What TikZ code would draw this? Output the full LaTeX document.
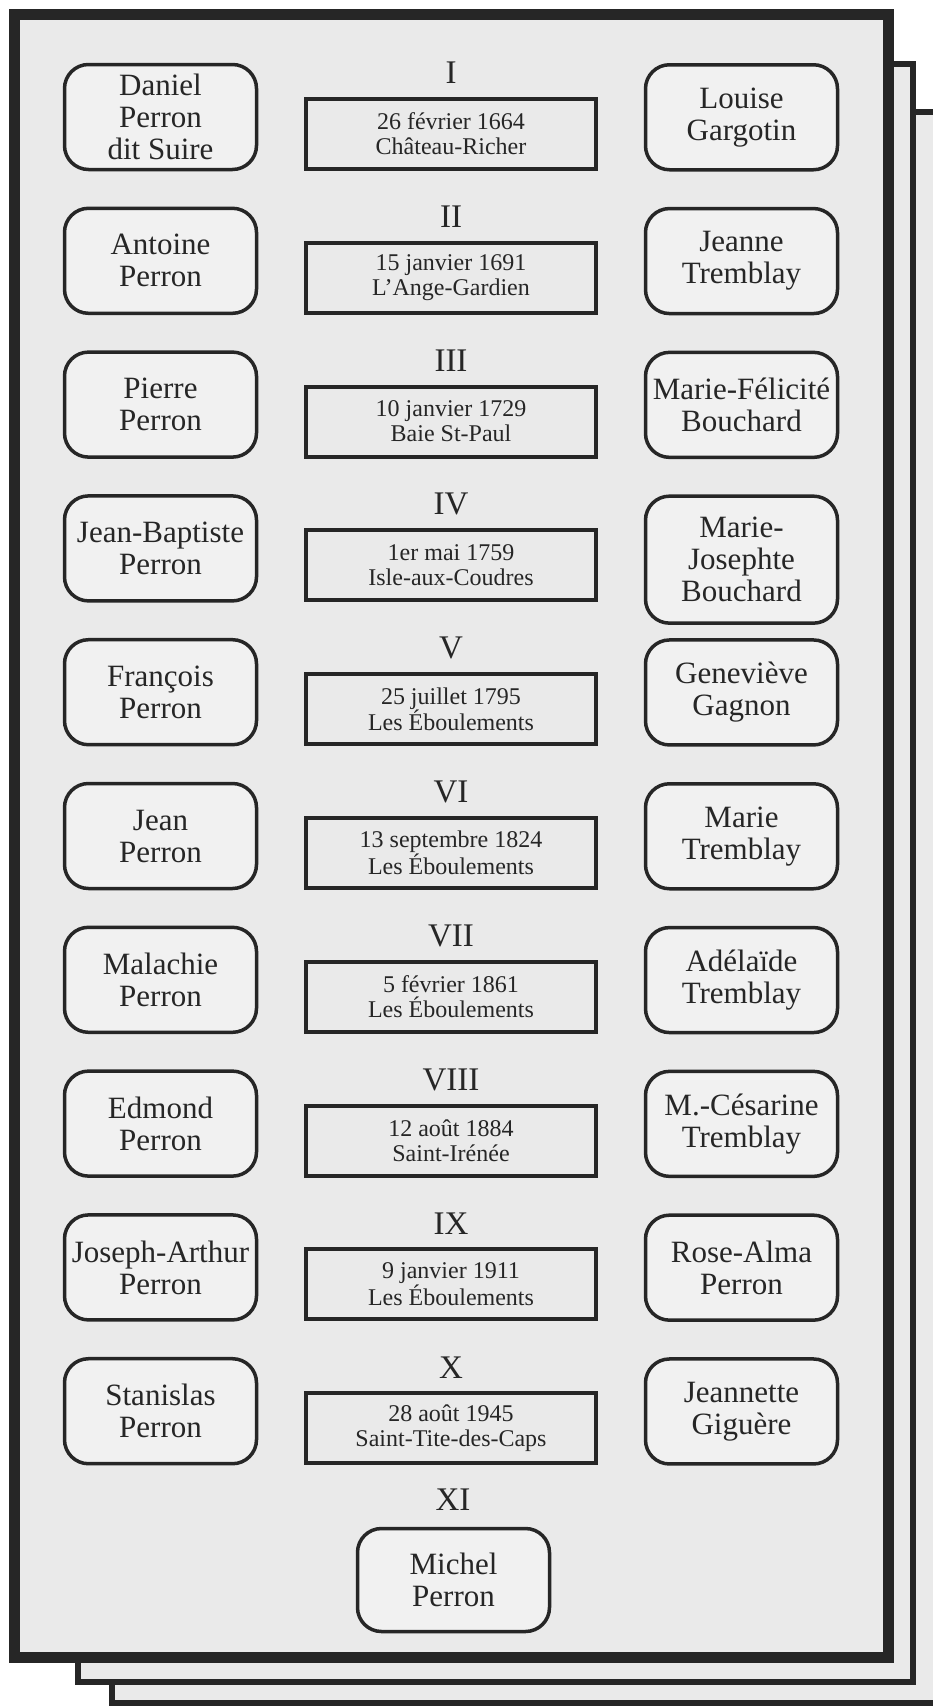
\documentclass[tikz,border=0pt]{standalone}
\usepackage{fontspec}
\setmainfont{Liberation Serif}
\definecolor{ink}{HTML}{262626}
\definecolor{paper}{HTML}{EAEAEA}
\definecolor{boxfill}{HTML}{F1F1F1}
\tikzset{
  person/.style={draw=ink, fill=boxfill, line width=3.5pt, rounded corners=24pt,
    minimum width=192pt, minimum height=105pt, align=center, inner sep=0pt,
    font=\fontsize{31}{32}\selectfont, text=ink},
  datebox/.style={draw=ink, fill=paper, line width=4pt, minimum width=290pt,
    minimum height=70pt, align=center, inner sep=0pt,
    font=\fontsize{24}{25}\selectfont, text=ink},
  gen/.style={font=\fontsize{33}{33}\selectfont, text=ink, inner sep=0pt},
  sheet/.style={draw=ink, fill=paper},
}
\begin{document}
\begin{tikzpicture}[x=1pt,y=-1pt]
\useasboundingbox (0,0) rectangle (933,1706);
\fill[white] (0,0) rectangle (933,1706);
\clip (0,0) rectangle (933,1706);
% stacked sheets
\draw[sheet, line width=6pt] (112,111.5) rectangle (980,1703);
\draw[sheet, line width=6pt] (78,63.5) rectangle (913,1681.5);
\draw[sheet, line width=11pt] (14.5,14.5) rectangle (888,1657.5);
% generations
\foreach \i/\g/\L/\D/\P/\R/\h in {
  1/I/{Daniel\\Perron\\dit Suire}/{26 février 1664}/{Château-Richer}/{Louise\\Gargotin}/105,
  2/II/{Antoine\\Perron}/{15 janvier 1691}/{L\char39 Ange-Gardien}/{Jeanne\\Tremblay}/105,
  3/III/{Pierre\\Perron}/{10 janvier 1729}/{Baie St-Paul}/{Marie-Félicité\\Bouchard}/105,
  4/IV/{Jean-Baptiste\\Perron}/{1er mai 1759}/{Isle-aux-Coudres}/{Marie-\\Josephte\\Bouchard}/127,
  5/V/{François\\Perron}/{25 juillet 1795}/{Les Éboulements}/{Geneviève\\Gagnon}/105,
  6/VI/{Jean\\Perron}/{13 septembre 1824}/{Les Éboulements}/{Marie\\Tremblay}/105,
  7/VII/{Malachie\\Perron}/{5 février 1861}/{Les Éboulements}/{Adélaïde\\Tremblay}/105,
  8/VIII/{Edmond\\Perron}/{12 août 1884}/{Saint-Irénée}/{M.-Césarine\\Tremblay}/105,
  9/IX/{Joseph-Arthur\\Perron}/{9 janvier 1911}/{Les Éboulements}/{Rose-Alma\\Perron}/105,
  10/X/{Stanislas\\Perron}/{28 août 1945}/{Saint-Tite-des-Caps}/{Jeannette\\Giguère}/105}{
  \pgfmathsetmacro{\t}{63+143.8*(\i-1)}
  \pgfmathsetmacro{\rc}{\t+(\h+3.5)/2}
  \node[person] (l\i) at (160.5,\t+54) {\L};
  \node[person, minimum height=\h pt] (r\i) at (741.5,\rc) {\R};
  \node[gen] (g\i) at (451,\t+10) {\g};
  \node[datebox] (d\i) at (451,\t+71) {\D\\\P};
}
\node[gen] (g11) at (453,1500) {XI};
\node[person, minimum height=103pt] (m) at (453.5,1580) {Michel\\Perron};
\end{tikzpicture}
\end{document}
